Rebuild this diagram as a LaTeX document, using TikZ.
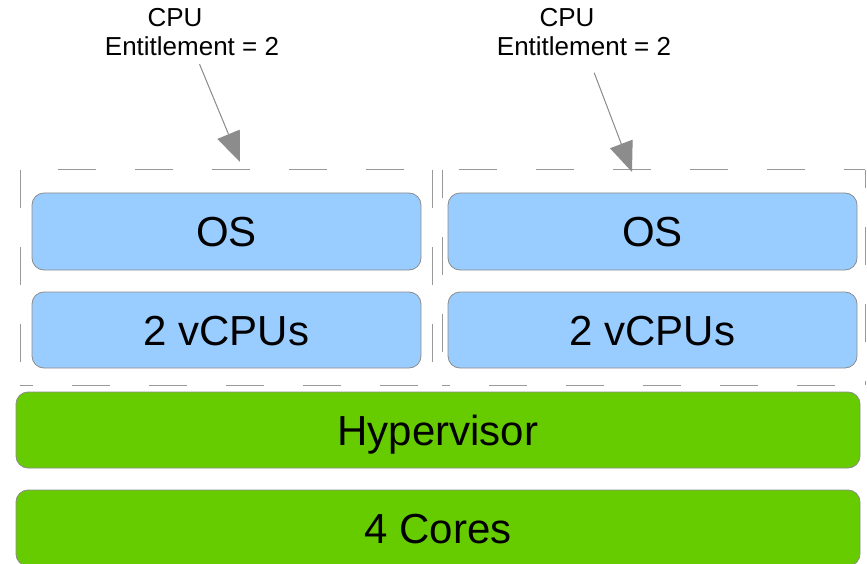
\documentclass[tikz,border=0pt]{standalone}
\usepackage{fontspec}
\setmainfont{Liberation Sans}
\usetikzlibrary{arrows.meta}
\definecolor{vmblue}{HTML}{99CCFF}
\definecolor{hwgreen}{HTML}{66CC00}
\definecolor{edgegray}{HTML}{8C8C8C}
\definecolor{dashgray}{HTML}{999999}
\begin{document}
\begin{tikzpicture}[x=1pt,y=-1pt,
  bluebox/.style={draw=edgegray,line width=0.8pt,fill=vmblue,rounded corners=12pt,
    inner sep=0pt,text height=30pt,text depth=0pt,font=\fontsize{42}{48}\selectfont},
  greenbox/.style={draw=edgegray,line width=0.8pt,fill=hwgreen,rounded corners=12pt,
    inner sep=0pt,text height=30pt,text depth=0pt,minimum width=844pt,minimum height=76pt,
    font=\fontsize{42}{48}\selectfont},
  lbl/.style={inner sep=2pt,font=\fontsize{26}{30}\selectfont},
  vmdash/.style={draw=dashgray,line width=1pt,dash pattern=on 38pt off 39pt},
  pointer/.style={draw=edgegray,line width=1pt,-{Triangle[length=30pt,width=24pt]},
    fill=edgegray}
]
\useasboundingbox (0,0) rectangle (867,564);
% dashed VM boundaries
\draw[vmdash,dash phase=39pt] (20,170) -- (432,170);
\draw[vmdash] (20,170) -- (20,385);
\draw[vmdash] (432,170) -- (432,385);
\draw[vmdash,dash phase=25pt] (20,385) -- (432,385);
\draw[vmdash,dash phase=60pt] (442,170) -- (865,170);
\draw[vmdash,dash phase=10pt] (442,170) -- (442,385);
\draw[vmdash,dash phase=20pt] (865,170) -- (865,385);
\draw[vmdash,dash phase=30pt] (442,385) -- (865,385);
% VM contents
\node[bluebox,minimum width=389pt,minimum height=77pt] (os1) at (226.5,231.5) {OS};
\node[bluebox,minimum width=389pt,minimum height=76pt] (vc1) at (226.5,330) {2 vCPUs};
\node[bluebox,minimum width=409pt,minimum height=77pt] (os2) at (652.5,231.5) {OS};
\node[bluebox,minimum width=409pt,minimum height=76pt] (vc2) at (652.5,330) {2 vCPUs};
% hardware layers
\node[greenbox] (hyp) at (438,430) {Hypervisor};
\node[greenbox] (cores) at (438,528) {4 Cores};
% labels
\node[lbl] (cpu1) at (175,18) {CPU};
\node[lbl] (ent1) at (192,46) {Entitlement = 2};
\node[lbl] (cpu2) at (567,18) {CPU};
\node[lbl] (ent2) at (584,46) {Entitlement = 2};
\coordinate (tip1) at (240,162);
\coordinate (tip2) at (632,172);
\draw[pointer,shorten <=7pt] (ent1) -- (tip1);
\draw[pointer,shorten <=16pt] (ent2) -- (tip2);
\end{tikzpicture}
\end{document}
